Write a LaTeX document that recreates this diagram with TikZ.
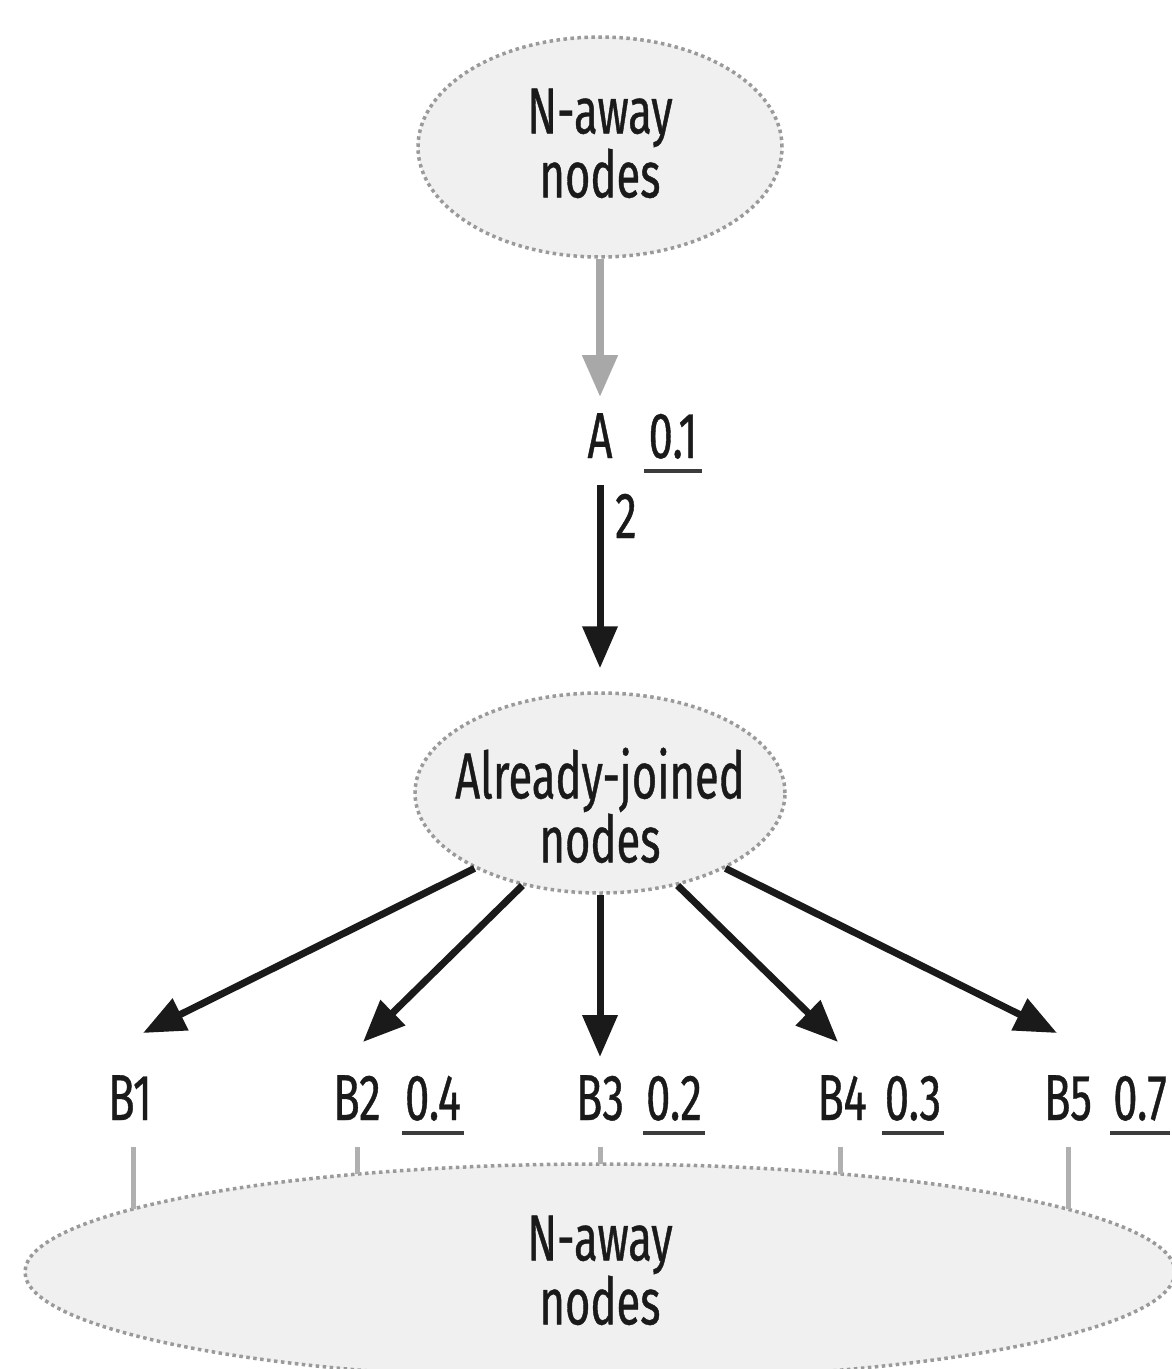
\documentclass[tikz,border=0pt]{standalone}
\usepackage{fontspec}
\setmainfont{Fira Sans}[FakeStretch=0.67,FakeBold=0.6]
\usetikzlibrary{shapes.geometric,arrows.meta}
\definecolor{fillg}{HTML}{F0F0F0}
\definecolor{dotg}{HTML}{9A9A9A}
\definecolor{arrg}{HTML}{A8A8A8}
\definecolor{tickg}{HTML}{B0B0B0}
\definecolor{ink}{HTML}{1A1A1A}
\begin{document}
\begin{tikzpicture}[x=1pt,y=-1pt,
  every node/.style={font=\fontsize{65}{64}\selectfont, inner sep=0pt, text depth=0pt, text=ink},
  blob/.style={ellipse, draw=dotg, fill=fillg, line width=3.5pt, dash pattern=on 3.5pt off 3.5pt},
  blobtext/.style={align=center},
  arr/.style={draw=ink, line width=7pt, -{Triangle[length=42pt,width=34pt]}},
  garr/.style={draw=arrg, line width=8pt, -{Triangle[length=42pt,width=34pt]}},
  uline/.style={draw=ink!85, line width=4pt},
  tick/.style={draw=tickg, line width=5pt},
  lbl/.style={anchor=base}]
\useasboundingbox (0,0) rectangle (1171,1369);
% ellipses
\node[blob, minimum width=364pt, minimum height=220pt] (top) at (600,147) {};
\node[blobtext] (topt) at (600,143) {N-away\\nodes};
\node[blob, minimum width=370pt, minimum height=200pt] (mid) at (600,793) {};
\node[blobtext] (midt) at (600,805) {Already-joined\\nodes};
\node[blob, minimum width=1150pt, minimum height=216pt] (bot) at (600,1272) {};
\node[blobtext] (bott) at (600,1270) {N-away\\nodes};
% A and weights
\node[lbl] (A) at (600,458) {A};
\node[lbl] (w01) at (673,458) {0.1};
\draw[uline] ([xshift=-4pt,yshift=-13pt]w01.base west) -- ([xshift=4pt,yshift=-13pt]w01.base east);
\node[anchor=base west] (l2) at (615,538) {2};
\draw[garr] (top.south) -- ([yshift=16pt]A.north);
\draw[arr, shorten <=27pt, shorten >=23pt] (A) -- (mid);
% B labels
\node[lbl] (B1) at (130,1120) {B1};
\node[lbl] (B2) at (357,1120) {B2};
\node[lbl] (w04) at (433,1120) {0.4};
\node[lbl] (B3) at (600,1120) {B3};
\node[lbl] (w02) at (674,1120) {0.2};
\node[lbl] (B4) at (842,1120) {B4};
\node[lbl] (w03) at (913,1120) {0.3};
\node[lbl] (B5) at (1068,1120) {B5};
\node[lbl] (w07) at (1140,1120) {0.7};
\foreach \w in {w04,w02,w03,w07}
  \draw[uline] ([xshift=-3pt,yshift=-13pt]\w.base west) -- ([xshift=3pt,yshift=-13pt]\w.base east);
% arrow tips
\coordinate (t1) at (143,1033);
\coordinate (t2) at (363,1042);
\coordinate (t3) at (600,1057);
\coordinate (t4) at (838,1042);
\coordinate (t5) at (1057,1033);
\draw[arr] (mid.211) -- (t1);
\draw[arr] (mid.230) -- (t2);
\draw[arr] (mid.south) -- (t3);
\draw[arr] (mid.310) -- (t4);
\draw[arr] (mid.329) -- (t5);
% ticks to bottom ellipse
\coordinate (e1) at (133,1209);
\coordinate (e2) at (357,1174);
\coordinate (e3) at (600,1164);
\coordinate (e4) at (840,1174);
\coordinate (e5) at (1068,1209);
\draw[tick] (e1 |- B1.base) ++(0,27) -- (e1);
\draw[tick] (e2 |- B2.base) ++(0,27) -- (e2);
\draw[tick] (e3 |- B3.base) ++(0,27) -- (e3);
\draw[tick] (e4 |- B4.base) ++(0,27) -- (e4);
\draw[tick] (e5 |- B5.base) ++(0,27) -- (e5);
\end{tikzpicture}
\end{document}
